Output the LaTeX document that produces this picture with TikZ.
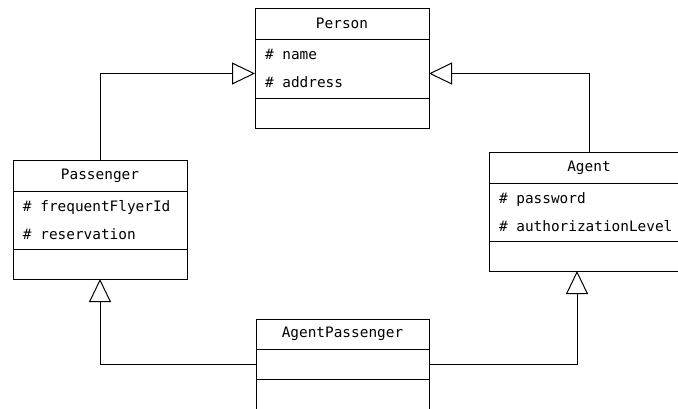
\documentclass[tikz,border=0pt]{standalone}
\usepackage{fontspec}
\setmonofont{DejaVu Sans Mono}
\usetikzlibrary{arrows.meta,calc}
\newcommand\umlattr[1]{\#\hspace{0.602em}#1}
\begin{document}
\begin{tikzpicture}[x=1pt,y=-1pt,
  box/.style={draw,line width=1pt,anchor=north west,inner sep=0pt,outer sep=0pt,
    font=\ttfamily\fontsize{14.4}{28.5}\selectfont},
  head/.style={box,minimum width=#1,minimum height=31},
  attrs/.style={box,minimum width=#1,text width=#1-20,inner xsep=10pt,align=left},
  meth/.style={box,minimum width=#1,minimum height=30},
  gen/.style={line width=1pt,-{Triangle[open,length=23pt,width=22pt]}}
]
\useasboundingbox (0,0) rectangle (678,408);
\clip (0,0) rectangle (678,408);
% Person
\node[head=174] (per) at (255,8) {Person};
\node[attrs=174,minimum height=59] (pera) at (per.south west) {\umlattr{name}\\\umlattr{address}};
\node[meth=174] (perm) at (pera.south west) {};
% Passenger
\node[head=174] (pas) at (13,160) {Passenger};
\node[attrs=174,minimum height=58] (pasa) at (pas.south west) {\umlattr{frequentFlyerId}\\\umlattr{reservation}};
\node[meth=174] (pasm) at (pasa.south west) {};
% Agent
\node[head=200] (ag) at (489,152) {Agent};
\node[attrs=200,minimum height=58] (aga) at (ag.south west) {\umlattr{password}\\\umlattr{authorizationLevel}};
\node[meth=200] (agm) at (aga.south west) {};
% AgentPassenger
\node[head=173,minimum height=30] (ap) at (256,319) {AgentPassenger};
\node[meth=173] (apa) at (ap.south west) {};
\node[meth=173] (apm) at (apa.south west) {};
% connectors
\coordinate (pinl) at ([yshift=-5pt]pera.west);
\coordinate (pinr) at ([yshift=-5pt]pera.east);
\coordinate (agin) at ([xshift=-12pt]agm.south);
\draw[gen] (pas.north) |- (pinl);
\draw[gen] (ag.north) |- (pinr);
\draw[gen] (apa.west) -| (pasm.south);
\draw[gen] (apa.east) -| (agin);
\end{tikzpicture}
\end{document}
